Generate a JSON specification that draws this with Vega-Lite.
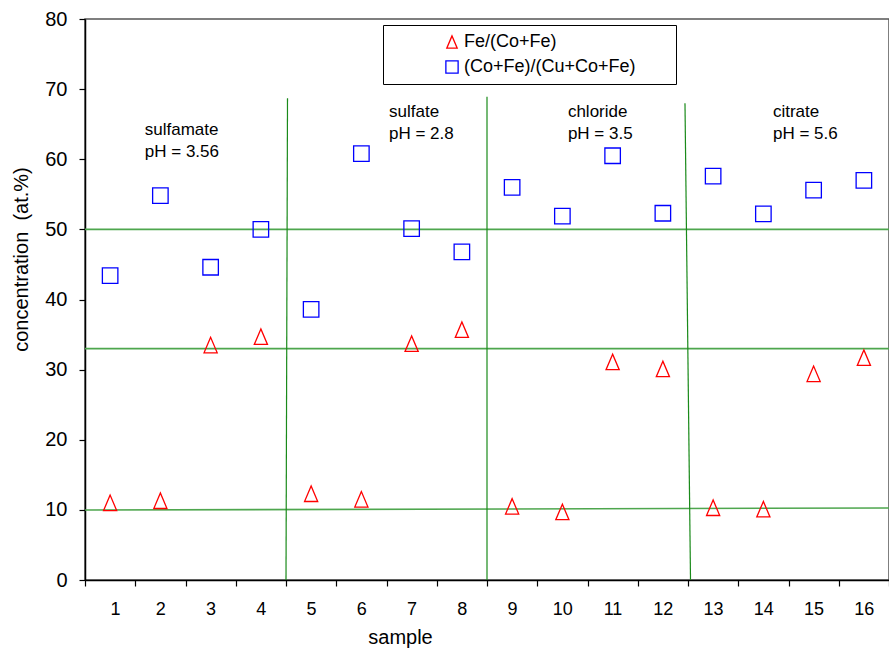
{
  "$schema": "https://vega.github.io/schema/vega-lite/v6.json",
  "width": 804,
  "height": 561,
  "autosize": "none",
  "padding": {"left": 85, "top": 19, "right": 0, "bottom": 70},
  "background": "white",
  "config": {
    "view": {"stroke": "#555555", "strokeWidth": 1.5},
    "font": "Liberation Sans",
    "axis": {"grid": false, "domainColor": "black", "tickColor": "black", "labelColor": "black", "titleColor": "black", "labelFont": "Liberation Sans", "titleFont": "Liberation Sans", "titleFontWeight": "normal", "domainWidth": 1.5, "tickWidth": 1.2}
  },
  "layer": [
    {
      "data": {"values": [
        {"seg": "h50", "x": 0.5, "y": 50}, {"seg": "h50", "x": 16.5, "y": 50},
        {"seg": "h33", "x": 0.5, "y": 33}, {"seg": "h33", "x": 16.5, "y": 33},
        {"seg": "h10", "x": 0.5, "y": 9.98}, {"seg": "h10", "x": 16.5, "y": 10.27}
      ]},
      "mark": {"type": "line", "color": "#4ea64e", "strokeWidth": 1.6},
      "encoding": {
        "x": {"field": "x", "type": "quantitative", "scale": {"domain": [0.5, 16.5], "nice": false, "zero": false},
          "axis": {"values": [0.5,1.5,2.5,3.5,4.5,5.5,6.5,7.5,8.5,9.5,10.5,11.5,12.5,13.5,14.5,15.5,16.5],
            "labelExpr": "datum.value < 16 ? format(datum.value + 0.5, 'd') : ''",
            "labelOffset": 25, "labelFontSize": 18, "labelPadding": 14, "tickSize": 6,
            "title": "sample", "titleFontSize": 20, "titleX": 315, "titlePadding": 9}},
        "y": {"field": "y", "type": "quantitative", "scale": {"domain": [0, 80], "nice": false},
          "axis": {"values": [0,5,10,15,20,25,30,35,40,45,50,55,60,65,70,75,80],
            "labelExpr": "datum.value % 10 == 0 ? datum.label : ''",
            "labelFontSize": 20, "labelPadding": 12, "tickSize": 6,
            "title": "concentration\u00a0 (at.%)", "titleFontSize": 20, "titleX": -64, "titleY": 240, "titleAngle": -90, "titleAlign": "center", "titleBaseline": "middle"}},
        "detail": {"field": "seg"}
      }
    },
    {
      "data": {"values": [
        {"seg": "v1", "x": 4.53, "y": 68.7}, {"seg": "v1", "x": 4.5, "y": 0},
        {"seg": "v2", "x": 8.5, "y": 68.9}, {"seg": "v2", "x": 8.5, "y": 0},
        {"seg": "v3", "x": 12.44, "y": 68.0}, {"seg": "v3", "x": 12.55, "y": 0}
      ]},
      "mark": {"type": "line", "color": "#1a8a1a", "strokeWidth": 1.2},
      "encoding": {
        "x": {"field": "x", "type": "quantitative"},
        "y": {"field": "y", "type": "quantitative"},
        "detail": {"field": "seg"}
      }
    },
    {
      "data": {"values": [
        {"x": 1.69, "y": 63.4, "t": "sulfamate"},
        {"x": 1.69, "y": 60.3, "t": "pH = 3.56"},
        {"x": 6.55, "y": 66.0, "t": "sulfate"},
        {"x": 6.55, "y": 62.9, "t": "pH = 2.8"},
        {"x": 10.11, "y": 66.0, "t": "chloride"},
        {"x": 10.11, "y": 62.9, "t": "pH = 3.5"},
        {"x": 14.19, "y": 66.0, "t": "citrate"},
        {"x": 14.19, "y": 62.9, "t": "pH = 5.6"}
      ]},
      "mark": {"type": "text", "align": "left", "baseline": "alphabetic", "fontSize": 17, "font": "Liberation Sans", "color": "black"},
      "encoding": {
        "x": {"field": "x", "type": "quantitative"},
        "y": {"field": "y", "type": "quantitative"},
        "text": {"field": "t"}
      }
    },
    {
      "data": {"values": [
        {"sample": 1, "value": 11.0, "series": "Fe/(Co+Fe)"},
        {"sample": 2, "value": 11.3, "series": "Fe/(Co+Fe)"},
        {"sample": 3, "value": 33.5, "series": "Fe/(Co+Fe)"},
        {"sample": 4, "value": 34.7, "series": "Fe/(Co+Fe)"},
        {"sample": 5, "value": 12.3, "series": "Fe/(Co+Fe)"},
        {"sample": 6, "value": 11.5, "series": "Fe/(Co+Fe)"},
        {"sample": 7, "value": 33.7, "series": "Fe/(Co+Fe)"},
        {"sample": 8, "value": 35.7, "series": "Fe/(Co+Fe)"},
        {"sample": 9, "value": 10.5, "series": "Fe/(Co+Fe)"},
        {"sample": 10, "value": 9.7, "series": "Fe/(Co+Fe)"},
        {"sample": 11, "value": 31.1, "series": "Fe/(Co+Fe)"},
        {"sample": 12, "value": 30.1, "series": "Fe/(Co+Fe)"},
        {"sample": 13, "value": 10.3, "series": "Fe/(Co+Fe)"},
        {"sample": 14, "value": 10.1, "series": "Fe/(Co+Fe)"},
        {"sample": 15, "value": 29.4, "series": "Fe/(Co+Fe)"},
        {"sample": 16, "value": 31.7, "series": "Fe/(Co+Fe)"},
        {"sample": 1, "value": 43.4, "series": "(Co+Fe)/(Cu+Co+Fe)"},
        {"sample": 2, "value": 54.8, "series": "(Co+Fe)/(Cu+Co+Fe)"},
        {"sample": 3, "value": 44.6, "series": "(Co+Fe)/(Cu+Co+Fe)"},
        {"sample": 4, "value": 50.0, "series": "(Co+Fe)/(Cu+Co+Fe)"},
        {"sample": 5, "value": 38.6, "series": "(Co+Fe)/(Cu+Co+Fe)"},
        {"sample": 6, "value": 60.8, "series": "(Co+Fe)/(Cu+Co+Fe)"},
        {"sample": 7, "value": 50.1, "series": "(Co+Fe)/(Cu+Co+Fe)"},
        {"sample": 8, "value": 46.8, "series": "(Co+Fe)/(Cu+Co+Fe)"},
        {"sample": 9, "value": 56.0, "series": "(Co+Fe)/(Cu+Co+Fe)"},
        {"sample": 10, "value": 51.9, "series": "(Co+Fe)/(Cu+Co+Fe)"},
        {"sample": 11, "value": 60.5, "series": "(Co+Fe)/(Cu+Co+Fe)"},
        {"sample": 12, "value": 52.3, "series": "(Co+Fe)/(Cu+Co+Fe)"},
        {"sample": 13, "value": 57.6, "series": "(Co+Fe)/(Cu+Co+Fe)"},
        {"sample": 14, "value": 52.2, "series": "(Co+Fe)/(Cu+Co+Fe)"},
        {"sample": 15, "value": 55.6, "series": "(Co+Fe)/(Cu+Co+Fe)"},
        {"sample": 16, "value": 57.0, "series": "(Co+Fe)/(Cu+Co+Fe)"}
      ]},
      "mark": {"type": "point", "filled": false, "strokeWidth": 1.3, "size": 240, "opacity": 1},
      "encoding": {
        "x": {"field": "sample", "type": "quantitative"},
        "y": {"field": "value", "type": "quantitative"},
        "color": {"field": "series", "type": "nominal",
          "scale": {"domain": ["Fe/(Co+Fe)", "(Co+Fe)/(Cu+Co+Fe)"], "range": ["#ff0000", "#0000ff"]},
          "legend": {"orient": "none", "legendX": 298, "legendY": 6,
            "title": ".", "titleOrient": "right", "titleColor": "white", "titleFontSize": 8, "titlePadding": 29,
            "fillColor": "white", "strokeColor": "black", "padding": 8,
            "symbolOffset": 52, "symbolSize": 150, "symbolStrokeWidth": 1.3,
            "labelFontSize": 18, "labelFont": "Liberation Sans", "labelColor": "black", "labelOffset": 3,
            "rowPadding": 7, "labelLimit": 500}},
        "shape": {"field": "series", "type": "nominal",
          "scale": {"domain": ["Fe/(Co+Fe)", "(Co+Fe)/(Cu+Co+Fe)"], "range": ["M0,-1L-0.85,1L0.85,1Z", "square"]}}
      }
    }
  ]
}
